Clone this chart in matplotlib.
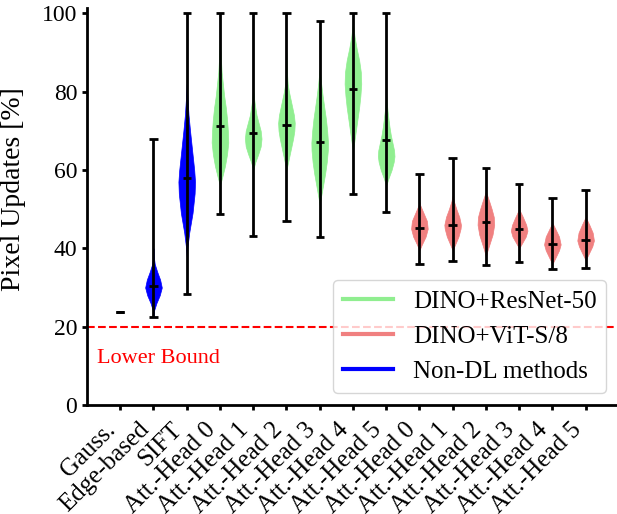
import numpy as np
import matplotlib
matplotlib.use("Agg")
import matplotlib.pyplot as plt
from matplotlib.lines import Line2D

plt.rcParams['font.family'] = ['Liberation Serif', 'DejaVu Serif']

labels = ["Gauss.", "Edge-based", "SIFT"] + ["Att.-Head %d" % i for i in range(6)] * 2
groups = ["non-dl"] * 3 + ["resnet"] * 6 + ["vit"] * 6

mins = [23.8, 22.4, 28.3, 48.7, 43.2, 46.9, 42.8, 53.8, 49.3, 36.1, 36.8, 35.7, 36.6, 34.7, 34.9]
maxs = [23.8, 67.9, 100, 100, 100, 100, 98.0, 100, 100, 59.1, 63.1, 60.6, 56.5, 52.8, 54.8]
medians = [23.8, 30.4, 57.9, 71.3, 69.4, 71.6, 67.2, 80.6, 67.6, 45.3, 45.9, 46.8, 44.9, 41.2, 42.2]

# violin outlines: y levels and relative half widths
shape_y = [
    [23.8, 23.8],
    [22.4, 24, 26, 28, 30, 32, 34, 36, 38, 40],
    [38, 40.5, 44, 49, 54, 57, 60, 64, 66, 70, 74, 78, 82],
    [56, 58, 61, 64, 67, 70, 73, 76, 79, 82, 85, 89, 94],
    [60, 62, 64, 66, 68, 70, 72, 74, 76, 78, 81],
    [60, 62, 64, 66, 68, 70, 72, 74, 76, 78, 80, 82, 85, 90],
    [51, 53, 56, 59, 62, 65, 67, 70, 73, 76, 79, 82, 86],
    [65, 67, 70, 73, 76, 79, 82, 85, 88, 91, 94, 97, 98],
    [56, 58, 60, 62, 63.5, 65, 67, 69, 71, 73, 75, 77, 80],
    [39.5, 41, 43, 45, 47, 49, 51, 52],
    [39.5, 41, 43, 45, 46, 48, 50, 52, 53.5],
    [37.8, 39.5, 41.5, 43.5, 46, 48, 50, 52, 54.5],
    [40, 41.5, 43, 44.5, 46, 48, 50],
    [36, 37.5, 39.5, 41, 43, 45, 46.5],
    [37, 38.5, 40.5, 42, 44, 46, 48],
]
shape_w = [
    [1, 1],
    [0, 0.05, 0.35, 0.75, 1.0, 0.8, 0.45, 0.15, 0.03, 0],
    [0, 0.1, 0.3, 0.7, 0.95, 1.0, 0.9, 0.7, 0.6, 0.4, 0.22, 0.1, 0],
    [0, 0.25, 0.6, 0.85, 1.0, 0.95, 0.85, 0.7, 0.5, 0.35, 0.2, 0.1, 0],
    [0, 0.25, 0.6, 0.9, 1.0, 0.9, 0.65, 0.4, 0.25, 0.12, 0],
    [0, 0.2, 0.4, 0.6, 0.8, 0.95, 1.0, 0.9, 0.7, 0.5, 0.3, 0.15, 0.06, 0],
    [0, 0.15, 0.4, 0.65, 0.85, 0.98, 1.0, 0.9, 0.75, 0.55, 0.35, 0.18, 0],
    [0, 0.15, 0.35, 0.55, 0.75, 0.9, 1.0, 0.95, 0.75, 0.45, 0.2, 0.03, 0],
    [0, 0.3, 0.65, 0.9, 1.0, 0.95, 0.75, 0.55, 0.4, 0.28, 0.17, 0.08, 0],
    [0, 0.3, 0.75, 1.0, 0.9, 0.5, 0.1, 0],
    [0, 0.3, 0.7, 0.95, 1.0, 0.8, 0.45, 0.15, 0],
    [0, 0.2, 0.5, 0.8, 1.0, 0.95, 0.7, 0.4, 0],
    [0, 0.4, 0.8, 1.0, 0.85, 0.45, 0],
    [0, 0.35, 0.8, 1.0, 0.8, 0.35, 0],
    [0, 0.35, 0.8, 1.0, 0.85, 0.45, 0],
]

colors = {"resnet": "lightgreen", "vit": "lightcoral", "non-dl": "blue"}
legend_names = {"resnet": "DINO+ResNet-50", "vit": "DINO+ViT-S/8", "non-dl": "Non-DL methods"}

lower_bound = 20

vpstats = []
for i in range(len(labels)):
    vpstats.append({"coords": np.array(shape_y[i]), "vals": np.array(shape_w[i]),
                    "mean": medians[i], "median": medians[i],
                    "min": mins[i], "max": maxs[i]})

fig = plt.figure(figsize=(6.17, 5.14), dpi=100)
ax = fig.add_axes([0.141, 0.212, 0.862, 0.772])

positions = np.arange(1, len(labels) + 1)
parts = ax.violin(vpstats, positions=positions, widths=0.5, showmedians=True)
for body, g in zip(parts["bodies"], groups):
    body.set_facecolor(colors[g])
    body.set_edgecolor(colors[g])
    body.set_linewidth(0.5)
    body.set_alpha(1)
parts["bodies"][0].set_visible(False)  # Gauss. has no spread
for key in ["cmins", "cmaxes", "cbars", "cmedians"]:
    parts[key].set_color("black")
    parts[key].set_linewidth(2)

ax.axhline(lower_bound, color="red", ls="--", lw=1.5)
ax.text(0.3, 12, "Lower Bound", color="red", fontsize=16, va="center")

ax.set_xlim(0, 16)
ax.set_ylim(0, 101.3)
ax.set_xticks(positions)
ax.set_xticklabels(labels, rotation=45, ha="right", fontsize=18)
ax.tick_params(axis="y", labelsize=17, width=2)
ax.tick_params(axis="x", width=2, pad=6)
ax.set_ylabel("Pixel Updates [%]", fontsize=20)
ax.yaxis.set_label_coords(-0.115, 0.545)
for s in ["top", "right"]:
    ax.spines[s].set_visible(False)
for s in ["left", "bottom"]:
    ax.spines[s].set_linewidth(2)

handles = [Line2D([0], [0], color=colors[g], lw=3) for g in ["resnet", "vit", "non-dl"]]
ax.legend(handles, [legend_names[g] for g in ["resnet", "vit", "non-dl"]],
          loc="lower right", fontsize=18)

fig.savefig("out.png", dpi=100)
